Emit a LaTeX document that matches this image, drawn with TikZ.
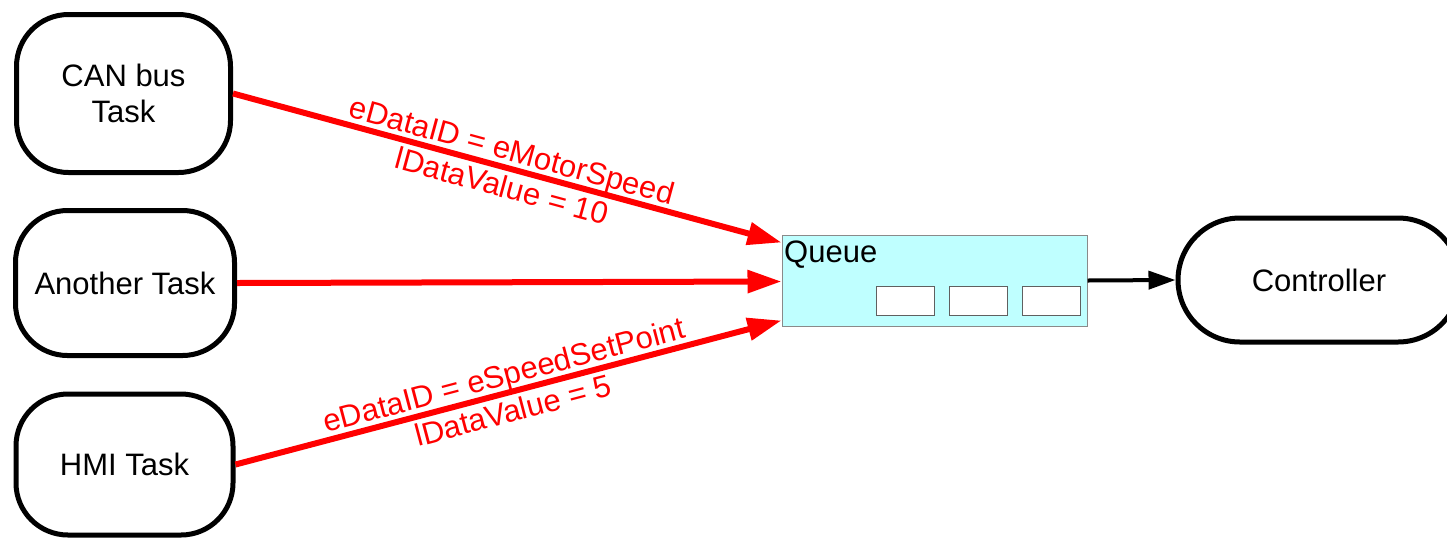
\documentclass[tikz,border=0pt]{standalone}
\usepackage{fontspec}
\setmainfont{Liberation Sans}
\usetikzlibrary{arrows.meta,calc}
\definecolor{queuecyan}{HTML}{BFFFFF}
\definecolor{queueedge}{HTML}{8A8A8A}
\definecolor{slotedge}{HTML}{606060}
\begin{document}
\begin{tikzpicture}[x=1pt,y=-1pt,
  task/.style={draw=black,line width=5pt,rounded corners=52pt,fill=white,
    align=center,font=\fontsize{31}{36}\selectfont,inner sep=0pt},
  queuebox/.style={draw=queueedge,line width=1pt,fill=queuecyan,inner sep=0pt,
    minimum width=305pt,minimum height=91pt},
  slot/.style={draw=slotedge,line width=0.8pt,fill=white,inner sep=0pt,
    minimum width=58pt,minimum height=29pt},
  msg/.style={draw=red,line width=6pt,-{Triangle[length=34pt,width=22pt]}},
  msglabel/.style={midway,sloped,align=center,text=red,inner sep=0pt,
    font=\fontsize{31}{37}\selectfont},
  outarrow/.style={draw=black,line width=4pt,-{Triangle[length=27pt,width=18pt]}}
]
\useasboundingbox (0,0) rectangle (1447,539);
\clip (0,0) rectangle (1447,539);

\node[task,minimum width=214pt,minimum height=158pt] (can) at (123.5,93.5) {CAN bus\\Task};
\node[task,minimum width=219pt,minimum height=145pt] (another) at (125,283) {Another Task};
\node[task,minimum width=217pt,minimum height=141pt] (hmi) at (124.5,464.5) {HMI Task};
\node[task,rounded corners=62pt,minimum width=282pt,minimum height=124pt] (ctrl) at (1319,280) {Controller};

\node[queuebox] (queue) at (934.5,280.5) {};
\node[anchor=base west,inner sep=0pt,font=\fontsize{31}{36}\selectfont] (qlabel) at (784,262) {Queue};
\node[slot] (s1) at (905,300.5) {};
\node[slot] (s2) at (978.5,300.5) {};
\node[slot] (s3) at (1051.5,300.5) {};

\draw[msg] (can.east) -- ([yshift=38pt]queue.west)
  node[msglabel] {eDataID = eMotorSpeed\\lDataValue = 10};
\draw[msg] (another.east) -- ([yshift=-1pt]queue.west);
\draw[msg] (hmi.east) -- ([yshift=-40pt]queue.west)
  node[msglabel] {eDataID = eSpeedSetPoint\\lDataValue = 5};

\draw[outarrow] (queue.east) -- (ctrl.west);
\end{tikzpicture}
\end{document}
